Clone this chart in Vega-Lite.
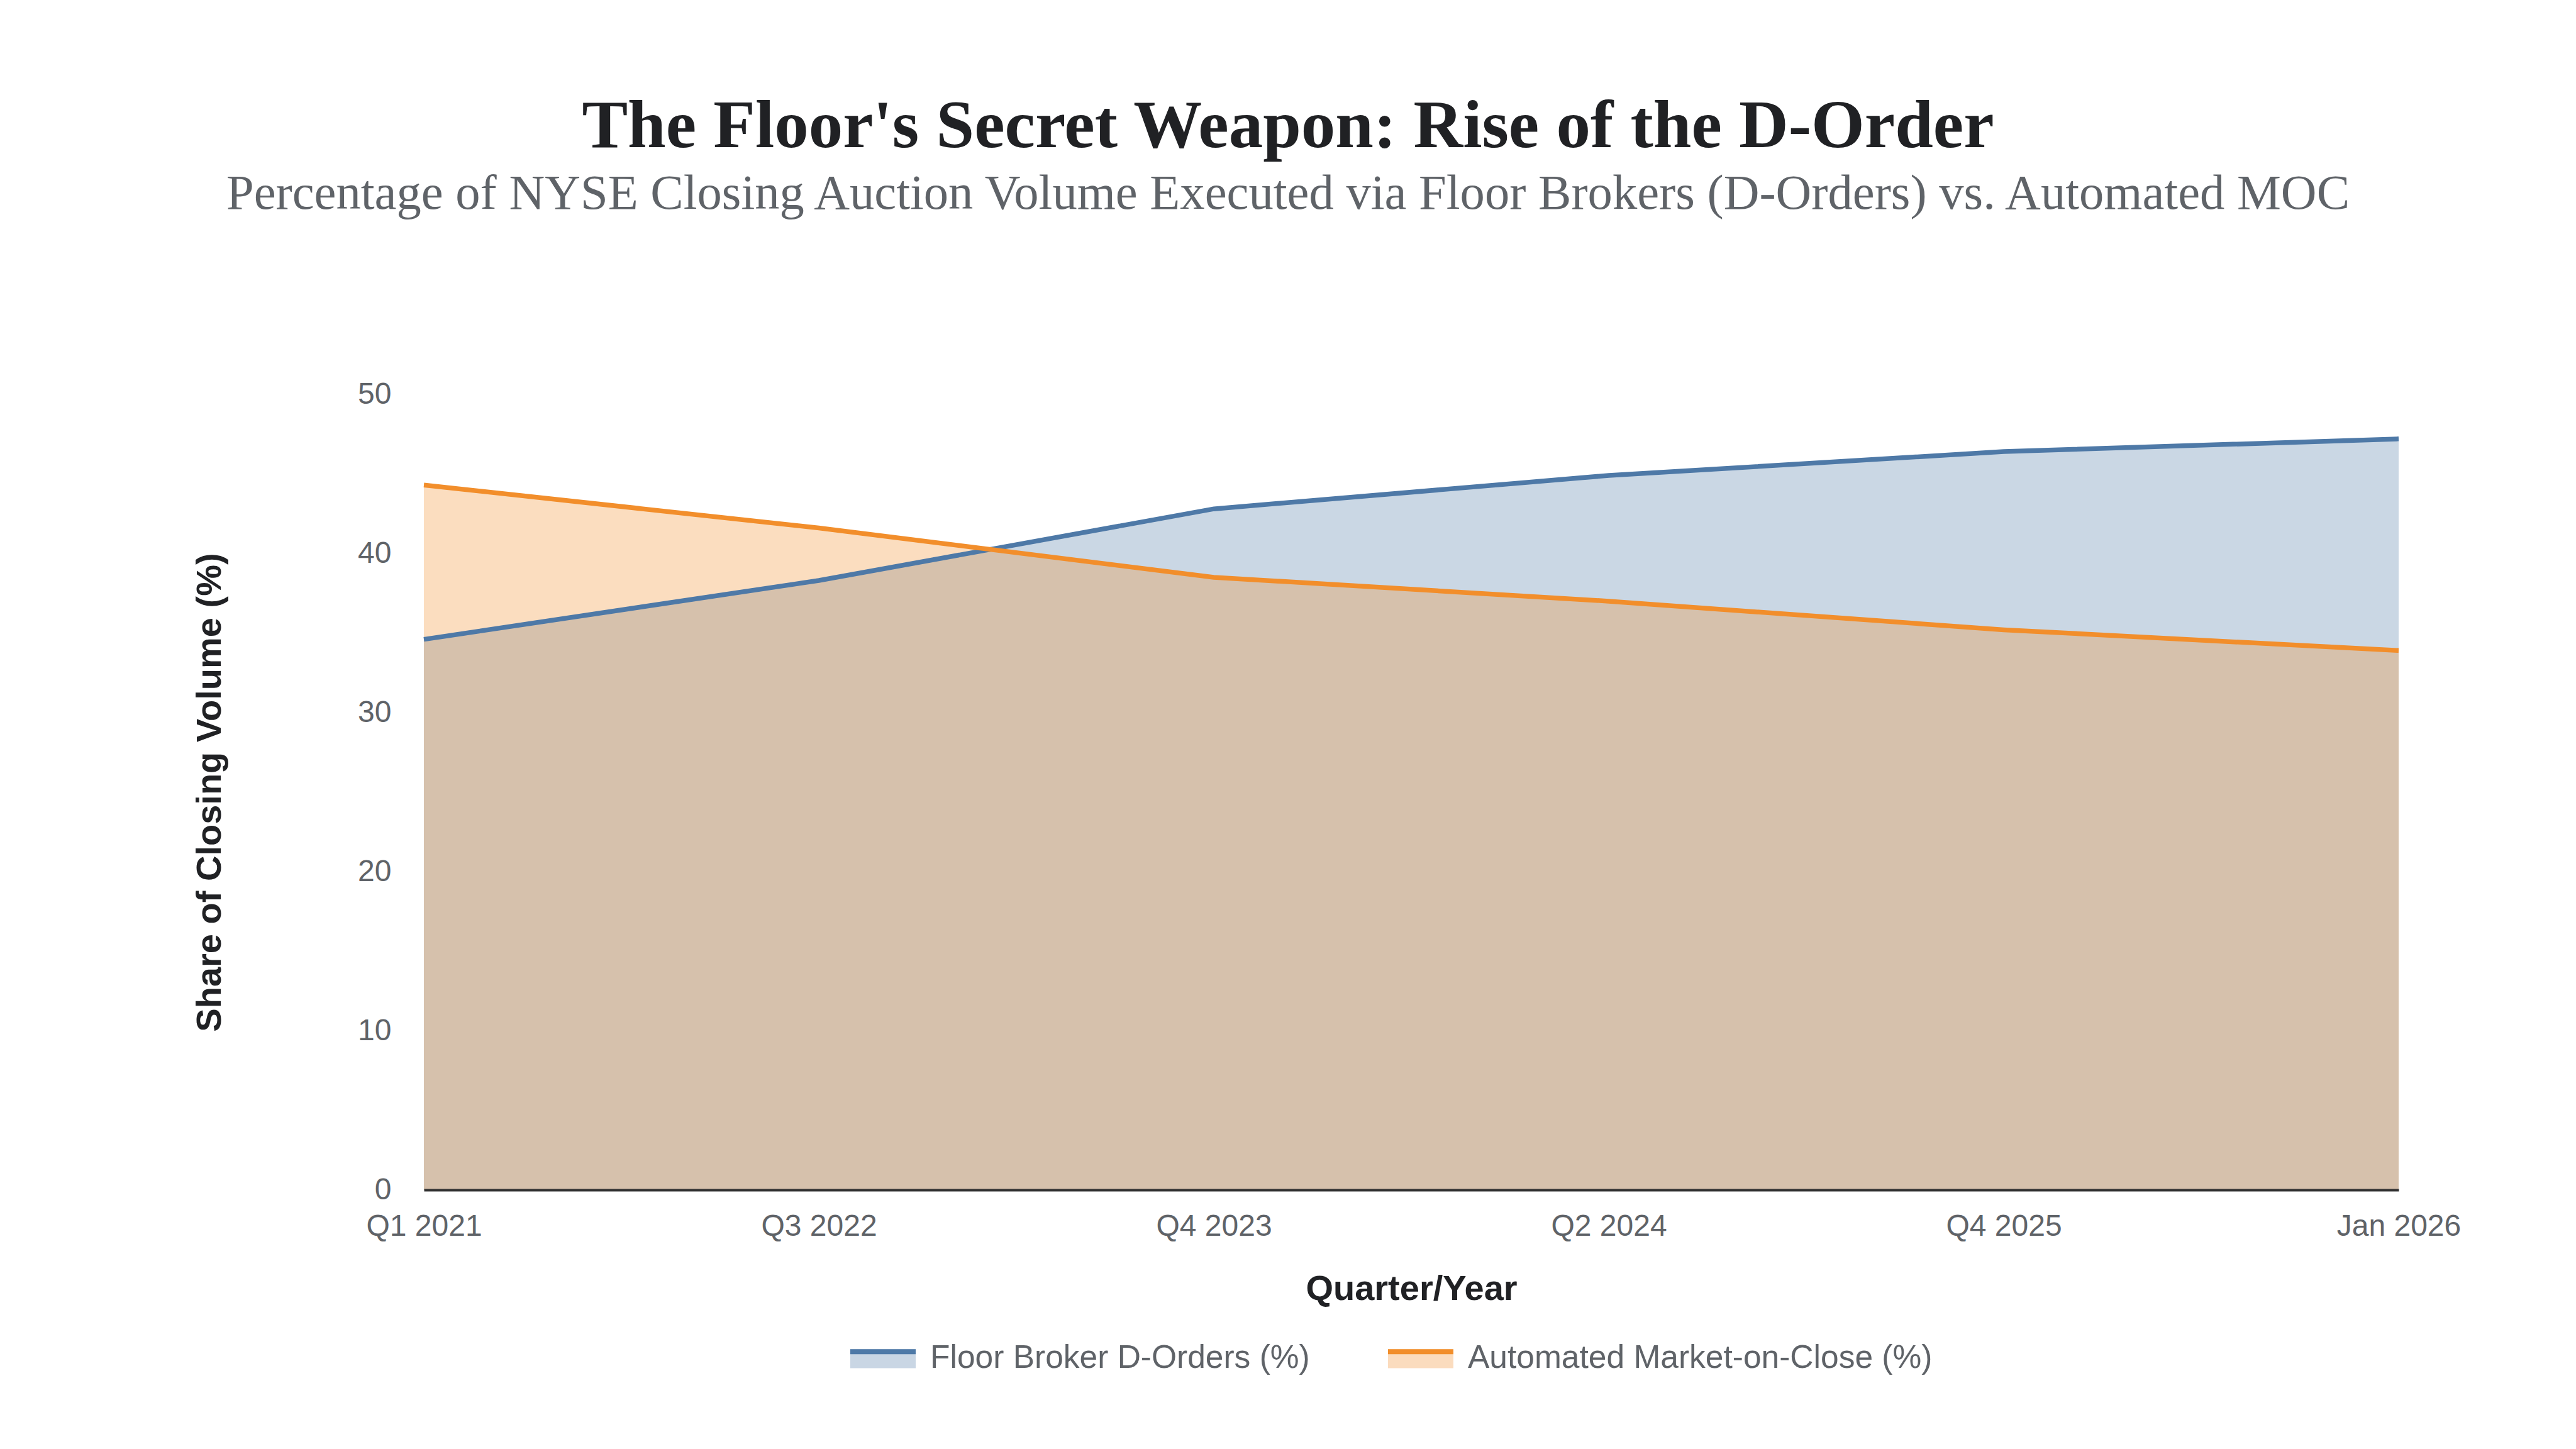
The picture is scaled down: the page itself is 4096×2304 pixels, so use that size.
{
  "$schema": "https://vega.github.io/schema/vega-lite/v6.json",
  "autosize": {"type": "none"},
  "width": 3140,
  "height": 1265,
  "padding": {"left": 674, "top": 627, "right": 282, "bottom": 412},
  "background": "white",
  "title": {
    "text": "The Floor's Secret Weapon: Rise of the D-Order",
    "subtitle": "Percentage of NYSE Closing Auction Volume Executed via Floor Brokers (D-Orders) vs. Automated MOC",
    "anchor": "middle",
    "dx": -196,
    "offset": 254,
    "font": "Liberation Serif",
    "fontSize": 109,
    "fontWeight": "bold",
    "color": "#202124",
    "subtitleFont": "Liberation Serif",
    "subtitleFontSize": 78.6,
    "subtitleColor": "#5f6368",
    "subtitlePadding": 13
  },
  "data": {
    "values": [
      {"period": "Q1 2021", "series": "Floor Broker D-Orders (%)", "share": 34.6},
      {"period": "Q1 2021", "series": "Automated Market-on-Close (%)", "share": 44.3},
      {"period": "Q3 2022", "series": "Floor Broker D-Orders (%)", "share": 38.3},
      {"period": "Q3 2022", "series": "Automated Market-on-Close (%)", "share": 41.6},
      {"period": "Q4 2023", "series": "Floor Broker D-Orders (%)", "share": 42.8},
      {"period": "Q4 2023", "series": "Automated Market-on-Close (%)", "share": 38.5},
      {"period": "Q2 2024", "series": "Floor Broker D-Orders (%)", "share": 44.9},
      {"period": "Q2 2024", "series": "Automated Market-on-Close (%)", "share": 37.0},
      {"period": "Q4 2025", "series": "Floor Broker D-Orders (%)", "share": 46.4},
      {"period": "Q4 2025", "series": "Automated Market-on-Close (%)", "share": 35.2},
      {"period": "Jan 2026", "series": "Floor Broker D-Orders (%)", "share": 47.2},
      {"period": "Jan 2026", "series": "Automated Market-on-Close (%)", "share": 33.9}
    ]
  },
  "encoding": {
    "x": {
      "field": "period",
      "type": "ordinal",
      "sort": null,
      "scale": {"type": "point", "padding": 0},
      "axis": {
        "title": "Quarter/Year",
        "labelAngle": 0,
        "labelOverlap": false,
        "labelLimit": 0,
        "ticks": false,
        "tickSize": 0,
        "labelPadding": 34,
        "domain": true,
        "domainColor": "#333333",
        "domainWidth": 4,
        "grid": false,
        "zindex": 1,
        "titlePadding": 48
      }
    },
    "y": {
      "field": "share",
      "type": "quantitative",
      "stack": null,
      "scale": {"domain": [0, 50], "nice": false},
      "axis": {
        "title": "Share of Closing Volume (%)",
        "values": [0, 10, 20, 30, 40, 50],
        "ticks": false,
        "tickSize": 0,
        "domain": false,
        "grid": false,
        "labelPadding": 52,
        "titlePadding": 206
      }
    }
  },
  "layer": [
    {
      "mark": {"type": "area", "opacity": 0.3},
      "encoding": {
        "fill": {
          "field": "series",
          "type": "nominal",
          "sort": ["Floor Broker D-Orders (%)", "Automated Market-on-Close (%)"],
          "scale": {"range": ["#4e79a7", "#f28e2b"]},
          "legend": {
            "title": null,
            "orient": "none",
            "direction": "horizontal",
            "legendX": 674,
            "legendY": 1477,
            "symbolType": "M-1,-0.29L1,-0.29L1,0.29L-1,0.29Z",
            "symbolStrokeColor": "transparent",
            "symbolStrokeWidth": 8
          }
        }
      }
    },
    {
      "mark": {"type": "line", "strokeWidth": 7.5},
      "encoding": {
        "stroke": {
          "field": "series",
          "type": "nominal",
          "scale": {
            "domain": ["Floor Broker D-Orders (%)", "Automated Market-on-Close (%)"],
            "range": ["#4e79a7", "#f28e2b"]
          },
          "legend": {
            "title": null,
            "orient": "none",
            "direction": "horizontal",
            "legendX": 674,
            "legendY": 1477,
            "symbolType": "M-1,-0.212L1,-0.212",
            "symbolFillColor": "transparent",
            "symbolStrokeWidth": 8,
            "labelColor": "transparent"
          }
        }
      }
    }
  ],
  "config": {
    "view": {"stroke": null},
    "axis": {
      "labelFont": "Liberation Sans",
      "labelFontSize": 48,
      "labelColor": "#5f6368",
      "titleFont": "Liberation Sans",
      "titleFontSize": 56,
      "titleFontWeight": "bold",
      "titleColor": "#202124"
    },
    "legend": {
      "labelFont": "Liberation Sans",
      "labelFontSize": 51.5,
      "labelColor": "#5f6368",
      "labelLimit": 0,
      "labelOffset": 19,
      "columnPadding": 108,
      "padding": 0,
      "symbolSize": 10816
    }
  }
}
